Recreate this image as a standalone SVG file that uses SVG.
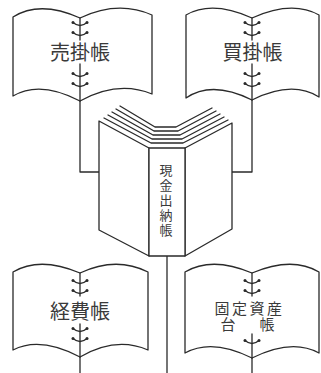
<svg xmlns="http://www.w3.org/2000/svg" width="321" height="373" viewBox="0 0 321 373">
<defs>
<style>
.ln{fill:none;stroke:#2a2a2a;stroke-width:1.3;stroke-linejoin:round;stroke-linecap:round}
.pg{fill:#ffffff;stroke:#2a2a2a;stroke-width:1.3;stroke-linejoin:round}
.dot{fill:#2a2a2a}
.t{font-family:"Noto Sans CJK JP","Noto Sans",sans-serif;fill:#3a3a3a;text-anchor:middle}
</style>
<g id="ring">
<path class="ln" d="M-7,-2.5 Q0,3.5 7,-2.5"/>
<circle class="dot" cx="-7" cy="-2.5" r="1.5"/>
<circle class="dot" cx="7" cy="-2.5" r="1.5"/>
</g>
</defs>
<rect width="321" height="373" fill="#ffffff"/>

<g id="connectors">
<path class="ln" d="M80,100 V172 H99"/>
<path class="ln" d="M252,100 V172 H232"/>
<path class="ln" d="M167,256 V373"/>
<path class="ln" d="M80,357 V373"/>
<path class="ln" d="M252,358 V373"/>
</g>

<g id="urikake">
<path class="pg" d="M13,17 Q40,0 80,18 Q118,0 152,15 L152,94 Q118,80 80,101 Q40,80 13,96 Z"/>
<path class="ln" d="M80,18 V40 M80,64 V101"/>
<use href="#ring" x="80" y="25"/>
<use href="#ring" x="80" y="35"/>
<use href="#ring" x="80" y="76"/>
<use href="#ring" x="80" y="86"/>
<text class="t" x="80" y="60" font-size="20">売掛帳</text>
</g>

<g id="kaikake">
<path class="pg" d="M186,15 Q212,0 252,18 Q292,0 319,15 L319,97 Q292,80 252,100 Q212,80 186,98 Z"/>
<path class="ln" d="M252,18 V40 M252,64 V100"/>
<use href="#ring" x="252" y="25"/>
<use href="#ring" x="252" y="35"/>
<use href="#ring" x="252" y="76"/>
<use href="#ring" x="252" y="86"/>
<text class="t" x="252.5" y="60" font-size="20">買掛帳</text>
</g>

<g id="genkin">
<path class="pg" d="M149,148 L99,121 L99,230 L149,256 Z"/>
<path class="pg" d="M185,148 L232,123 L232,229 L185,256 Z"/>
<rect class="pg" x="149" y="148" width="36" height="108"/>
<path class="ln" d="M104,118 L151,143 L183,143 L228,120"/>
<path class="ln" d="M108,115 L152,139 L182,139 L224,117"/>
<path class="ln" d="M112,112 L153,135 L180,135 L220,114"/>
<path class="ln" d="M116,109 L154,131 L178,131 L216,111"/>
<path class="ln" d="M120,106 L155,127 L176,127 L212,108"/>
<text class="t" font-size="13" x="166" y="175">現</text>
<text class="t" font-size="13" x="166" y="190">金</text>
<text class="t" font-size="13" x="166" y="205">出</text>
<text class="t" font-size="13" x="166" y="220">納</text>
<text class="t" font-size="13" x="166" y="235">帳</text>
</g>

<g id="keihi">
<path class="pg" d="M13,272 Q40,256 80,273 Q116,256 148,272 L148,350 Q116,336 80,357 Q40,336 13,350 Z"/>
<path class="ln" d="M80,273 V296 M80,324 V357"/>
<use href="#ring" x="80" y="283"/>
<use href="#ring" x="80" y="293"/>
<use href="#ring" x="80" y="331"/>
<use href="#ring" x="80" y="341"/>
<text class="t" x="80" y="319" font-size="20">経費帳</text>
</g>

<g id="kotei">
<path class="pg" d="M185,272 Q212,256 252,273 Q292,256 319,272 L319,353 Q292,338 252,358 Q212,338 185,353 Z"/>
<path class="ln" d="M252,273 V296 M252,334 V358"/>
<use href="#ring" x="252" y="283"/>
<use href="#ring" x="252" y="293"/>
<use href="#ring" x="252" y="343"/>
<text class="t" x="249.5" y="314" font-size="15" letter-spacing="2.5">固定資産</text>
<text class="t" x="228" y="330" font-size="15">台</text>
<text class="t" x="267" y="330" font-size="15">帳</text>
</g>
</svg>
